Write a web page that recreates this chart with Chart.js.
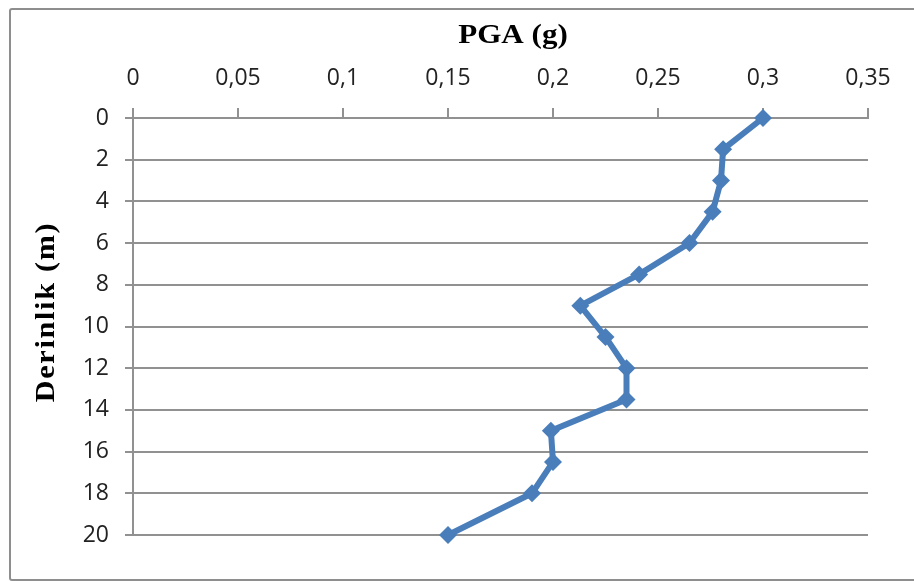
<!DOCTYPE html>
<html><head><meta charset="utf-8">
<script src="https://cdn.jsdelivr.net/npm/chart.js@4"></script>
<style>
html,body{margin:0;padding:0;background:#fff;}
#frame{position:absolute;left:9px;top:8px;width:930px;height:573px;border:2px solid #8e8e8e;border-radius:3px;box-sizing:border-box;}
#wrap{position:absolute;left:0;top:0;width:914px;height:581px;}
</style></head><body>
<div id="frame"></div>
<div id="wrap"><canvas id="c" width="914" height="581"></canvas></div>
<script>
// Depth profile of peak ground acceleration
const depths = [0, 1.5, 3, 4.5, 6, 7.5, 9, 10.5, 12, 13.5, 15, 16.5, 18, 20];
const pga = [0.300, 0.281, 0.280, 0.276, 0.265, 0.241, 0.213, 0.225, 0.235, 0.235, 0.199, 0.200, 0.190, 0.150];
const xTickValues = [0, 0.05, 0.1, 0.15, 0.2, 0.25, 0.3, 0.35];
const yTickValues = [0, 2, 4, 6, 8, 10, 12, 14, 16, 18, 20];
const xTitle = 'PGA (g)';
const yTitle = 'Derinlik (m)';

const gridColor = '#919191';
const lineColor = '#4a7ebb';
const tickFont = { family: '"Open Sans", sans-serif', size: 23 };

const points = depths.map((d, i) => ({ x: pga[i], y: d }));

// Bold serif axis titles, slightly widened along the text direction
const axisTitles = {
  id: 'axisTitles',
  afterDraw(chart) {
    const ctx = chart.ctx;
    ctx.save();
    ctx.fillStyle = '#000';
    ctx.font = 'bold 27px "Liberation Serif", serif';
    ctx.textAlign = 'center';
    ctx.textBaseline = 'alphabetic';
    ctx.save();
    ctx.translate(513, 43);
    ctx.scale(1.15, 1);
    ctx.fillText(xTitle, 0, 0);
    ctx.restore();
    ctx.letterSpacing = '1.5px';
    ctx.translate(54, 312);
    ctx.rotate(-Math.PI / 2);
    ctx.scale(1.12, 1);
    ctx.fillText(yTitle, 0, 0);
    ctx.restore();
  }
};

new Chart(document.getElementById('c'), {
  type: 'scatter',
  data: {
    datasets: [{
      data: points,
      showLine: true,
      borderColor: lineColor,
      borderWidth: 6,
      backgroundColor: lineColor,
      pointStyle: 'rectRot',
      pointRadius: 9,
      pointHoverRadius: 9,
      pointBorderWidth: 0,
      clip: false
    }]
  },
  options: {
    responsive: false,
    devicePixelRatio: 1,
    animation: false,
    layout: { padding: { left: 0, top: 0, right: 46, bottom: 46 } },
    plugins: { legend: { display: false }, tooltip: { enabled: false } },
    scales: {
      x: {
        type: 'linear',
        position: 'top',
        min: 0,
        max: 0.35,
        afterBuildTicks(scale) { scale.ticks = xTickValues.map(v => ({ value: v })); },
        afterFit(scale) { scale.height = 118; },
        ticks: {
          padding: 16,
          color: '#222',
          font: tickFont,
          maxRotation: 0,
          callback: v => String(Math.round(v * 100) / 100).replace('.', ',')
        },
        grid: { drawOnChartArea: false, drawTicks: true, tickLength: 10, color: gridColor, lineWidth: 2 },
        border: { display: true, color: gridColor, width: 2 }
      },
      y: {
        type: 'linear',
        reverse: true,
        min: 0,
        max: 20,
        afterBuildTicks(scale) { scale.ticks = yTickValues.map(v => ({ value: v })); },
        afterFit(scale) { scale.width = 133; },
        ticks: { padding: 16, color: '#222', font: tickFont },
        grid: { drawOnChartArea: true, drawTicks: true, tickLength: 8, color: gridColor, lineWidth: 2 },
        border: { display: true, color: gridColor, width: 2 }
      }
    }
  },
  plugins: [axisTitles]
});
</script>
</body></html>
